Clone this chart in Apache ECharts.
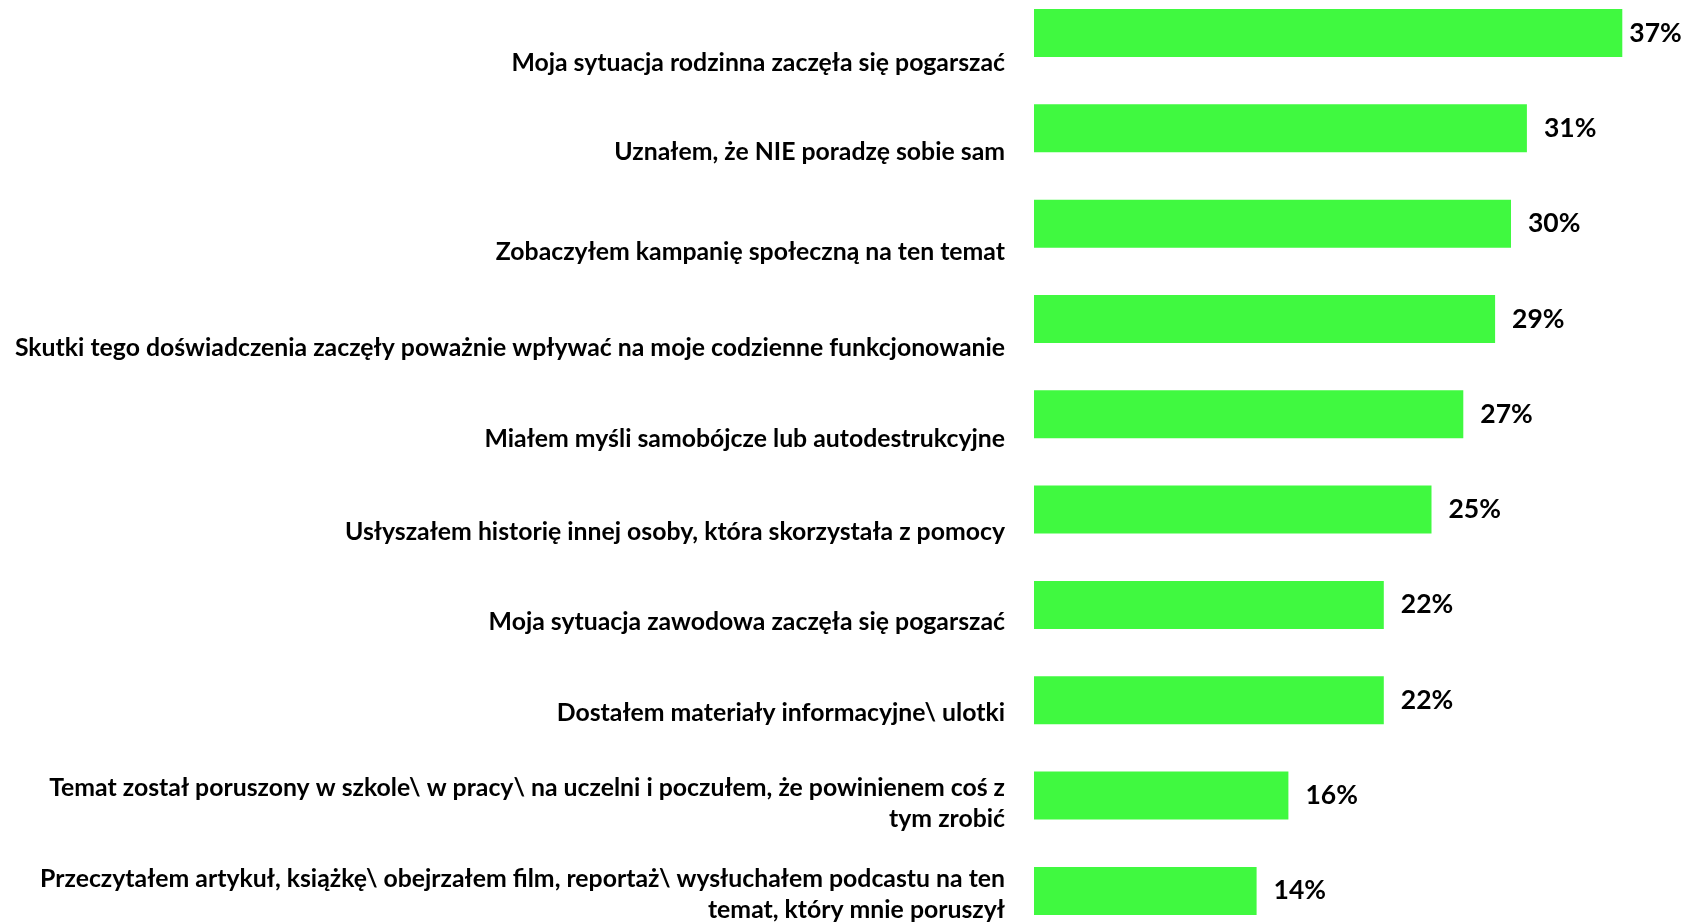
<!DOCTYPE html>
<html>
<head>
<meta charset="utf-8">
<script src="https://cdn.jsdelivr.net/npm/echarts@6/dist/echarts.min.js"></script>
<style>
  html, body { margin: 0; padding: 0; background: #ffffff; }
  #chart { width: 1686px; height: 922px; }
</style>
</head>
<body>
<div id="chart"></div>
<script>
// Reasons for seeking help, share of respondents (%)
const categories = [
  'Moja sytuacja rodzinna zaczęła się pogarszać',
  'Uznałem, że NIE poradzę sobie sam',
  'Zobaczyłem kampanię społeczną na ten temat',
  'Skutki tego doświadczenia zaczęły poważnie wpływać na moje codzienne funkcjonowanie',
  'Miałem myśli samobójcze lub autodestrukcyjne',
  'Usłyszałem historię innej osoby, która skorzystała z pomocy',
  'Moja sytuacja zawodowa zaczęła się pogarszać',
  'Dostałem materiały informacyjne\\ ulotki',
  'Temat został poruszony w szkole\\ w pracy\\ na uczelni i poczułem, że powinienem coś z\ntym zrobić',
  'Przeczytałem artykuł, książkę\\ obejrzałem film, reportaż\\ wysłuchałem podcastu na ten\ntemat, który mnie poruszył'
];
const values = [37, 31, 30, 29, 27, 25, 22, 22, 16, 14];

// Layout: downward shift of each category label relative to its bar (px)
const labelShift = [30, 24, 28, 29, 25, 22, 17, 13, 8, 4];

const FONT = 'Lato, "Open Sans", sans-serif';
const GREEN = '#40F940';
const LINE_H = 31;

const chart = echarts.init(document.getElementById('chart'), null, { renderer: 'canvas' });

// Rich styles: a blank spacer line above the text pushes the label block down
const rich = {
  t: {
    color: '#000000', fontFamily: FONT, fontWeight: 'bold',
    fontSize: 24.8, lineHeight: LINE_H, align: 'right'
  }
};
labelShift.forEach((s, i) => {
  rich['g' + i] = { fontSize: 1, lineHeight: s * 2, align: 'right' };
});

const barData = values.map((v, i) => ({
  value: v,
  label: { distance: i === 0 ? 7 : 17 }
}));

chart.setOption({
  animation: false,
  backgroundColor: '#ffffff',
  grid: {
    left: 1034, top: -14.7, width: 636, height: 953.3,
    containLabel: false, outerBoundsMode: 'none'
  },
  xAxis: {
    type: 'value', min: 0, max: 40, show: false
  },
  yAxis: {
    type: 'category',
    inverse: true,
    data: categories,
    axisLine: { show: false },
    axisTick: { show: false },
    splitLine: { show: false },
    axisLabel: {
      margin: 29,
      align: 'right',
      verticalAlign: 'middle',
      hideOverlap: false,
      interval: 0,
      formatter: (val, idx) => {
        const lines = val.split('\n').map(l => '{t|' + l + '}');
        return '{g' + idx + '| }\n' + lines.join('\n');
      },
      rich: rich
    }
  },
  series: [{
    type: 'bar',
    data: barData,
    barWidth: 48,
    itemStyle: { color: GREEN },
    label: {
      show: true,
      position: 'right',
      formatter: p => p.value + '%',
      color: '#000000',
      fontFamily: FONT,
      fontWeight: 'bold',
      fontSize: 26.5
    }
  }]
});
</script>
</body>
</html>
